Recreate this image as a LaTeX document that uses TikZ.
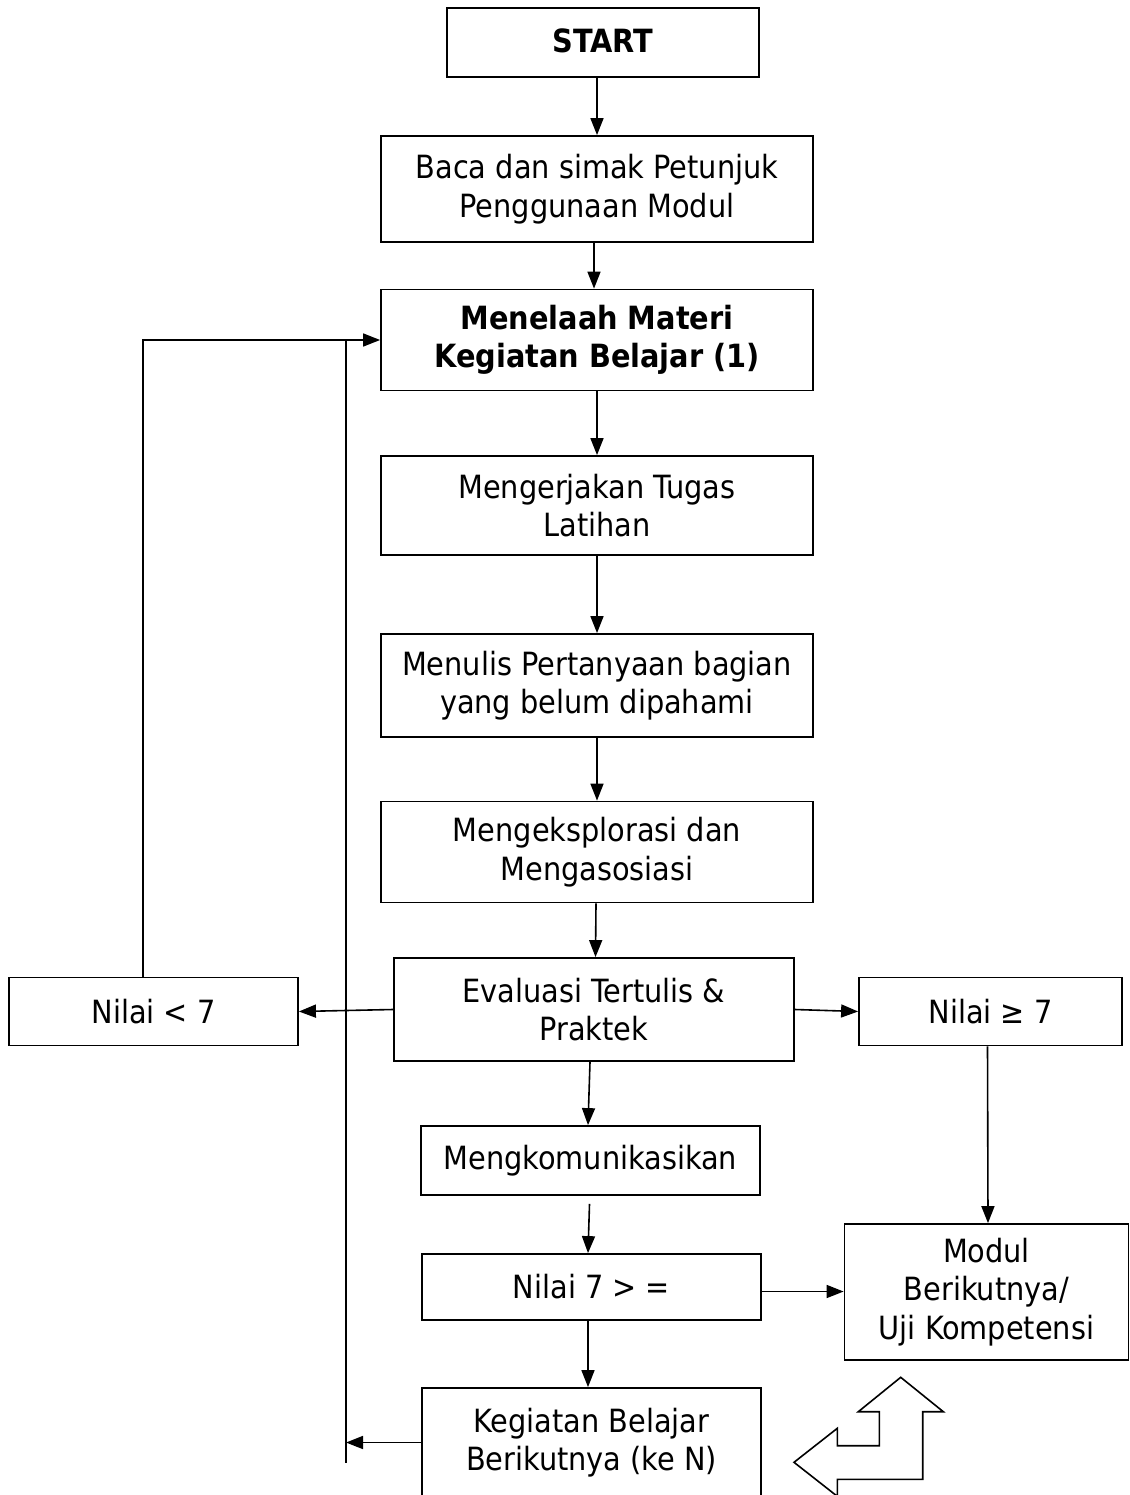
\documentclass[tikz,border=0pt]{standalone}
\usepackage{fontspec}
\setmainfont{DejaVu Sans Condensed}
\usetikzlibrary{arrows.meta}
\begin{document}
\begin{tikzpicture}[x=1pt,y=-1pt,
  box/.style={draw,line width=1.8pt,align=center,inner sep=0pt,
    font=\fontsize{32pt}{38.5pt}\selectfont},
  arr/.style={line width=1.6pt,-{Triangle[length=17pt,width=13pt]}},
  ln/.style={line width=1.6pt}]
\useasboundingbox (0,0) rectangle (1129,1495);
\clip (0,0) rectangle (1129,1495);
\node[box,minimum width=312pt,minimum height=69pt] (start) at (603,42.5) {\raisebox{4pt}{\textbf{START}}};
\node[box,minimum width=432pt,minimum height=106pt] (b2) at (597,189) {Baca dan simak Petunjuk\\Penggunaan Modul};
\node[box,minimum width=432pt,minimum height=101pt] (b3) at (597,340) {\textbf{Menelaah Materi}\\\textbf{Kegiatan Belajar (1)}};
\node[box,minimum width=432pt,minimum height=99pt] (b4) at (597,505.5) {Mengerjakan Tugas\\Latihan};
\node[box,minimum width=432pt,minimum height=103pt] (b5) at (597,685.5) {Menulis Pertanyaan bagian\\yang belum dipahami};
\node[box,minimum width=432pt,minimum height=101pt] (b6) at (597,852) {Mengeksplorasi dan\\Mengasosiasi};
\node[box,minimum width=400pt,minimum height=103pt] (eval) at (594,1009.5) {Evaluasi Tertulis \&\\Praktek};
\node[box,minimum width=289pt,minimum height=68pt] (low) at (153.5,1011.5) {Nilai < 7};
\node[box,minimum width=263pt,minimum height=68pt] (high) at (990.5,1011.5) {Nilai ≥ 7};
\node[box,minimum width=339pt,minimum height=69pt] (komm) at (590.5,1160.5) {Mengkomunikasikan};
\node[box,minimum width=339pt,minimum height=66pt] (n7) at (591.5,1287) {Nilai 7 > =};
\node[box,minimum width=284pt,minimum height=136pt] (modul) at (986.5,1292) {Modul\\Berikutnya/\\Uji Kompetensi};
\node[box,minimum width=339pt,minimum height=109pt] (next) at (591.5,1442.5) {Kegiatan Belajar\\Berikutnya (ke N)};
% connectors
\draw[arr] ([xshift=-6pt]start.south) -- (b2.north);
\draw[arr] ([xshift=-3pt]b2.south) -- ([xshift=-3pt]b3.north);
\draw[arr] (b3.south) -- (b4.north);
\draw[arr] (b4.south) -- (b5.north);
\draw[arr] (b5.south) -- (b6.north);
\draw[arr] ([xshift=-1pt]b6.south) -- ([xshift=1.5pt]eval.north);
\draw[arr] (eval.west) -- (low.east);
\draw[arr] (eval.east) -- (high.west);
\draw[arr] ([xshift=-4pt]eval.south) -- ([xshift=-2.5pt]komm.north);
\draw[arr] ([xshift=-1pt,yshift=-8pt]komm.south) -- ([xshift=-3.5pt]n7.north);
\coordinate (n7r) at ([yshift=-4.5pt]n7.east);
\draw[arr] (n7r) -- (n7r -| modul.west);
\draw[arr] ([xshift=-3pt]high.south) -- ([xshift=1.5pt]modul.north);
\draw[arr] ([xshift=-3.5pt]n7.south) -- ([xshift=-3.5pt]next.north);
\coordinate (vt) at (346,340);
\coordinate (vb) at (346,1463);
\draw[ln] (vt) -- (vb);
\draw[arr] (next.west) -- (next.west -| vb);
\coordinate (lt) at (143,340);
\draw[arr] ([xshift=-10.5pt]low.north) -- (lt) -- (b3.west);
% u-turn block arrow
\draw[line width=1.6pt,line join=miter] (900.7,1377.3) -- (943.3,1411.7) -- (922.7,1411.7) -- (922.7,1479.3)
  -- (837.3,1479.3) -- (837.3,1496.3) -- (794,1462.3) -- (837.3,1428.3) -- (837.3,1445.7)
  -- (879.3,1445.7) -- (879.3,1411.7) -- (858.3,1411.7) -- cycle;
\end{tikzpicture}
\end{document}
